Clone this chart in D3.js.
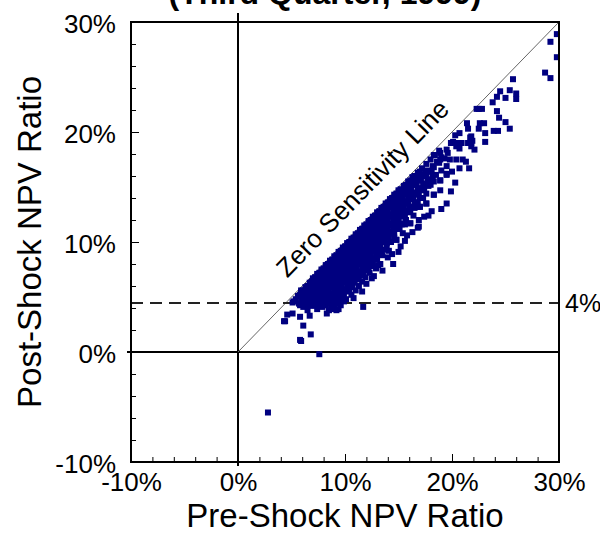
<!DOCTYPE html>
<html>
<head>
<meta charset="utf-8">
<script src="https://cdn.jsdelivr.net/npm/d3@7"></script>
<style>
  body { margin: 0; background: #fff; }
  svg { display: block; font-family: "Liberation Sans", Arial, sans-serif; }
  .tick line { stroke: #000; }
</style>
</head>
<body>
<div class="chart"></div>
<script>
// tick values (percent)
var xTicks = [-10, 0, 10, 20, 30];
var yTicks = [-10, 0, 10, 20, 30];
var threshold = 4.45;           // dashed "4%" line sits a little above 4
var thresholdLabel = "4%";
var diagLabelAt = 13.3;         // where the rotated label sits along the 45-degree line

// [pre-shock, post-shock] in percent - the dense band
var clusterPoints = [
  [6.1,4.1],[6.5,3.8],[7.0,4.2],[7.4,3.9],[7.9,4.1],[8.5,3.8],[9.0,4.2],[9.4,3.9],
  [5.2,4.6],[5.7,4.4],[6.2,4.7],[6.6,4.4],[7.1,4.6],[7.5,4.3],[8.0,4.6],[8.4,4.4],[8.9,4.7],[9.3,4.4],[9.9,4.6],
  [5.6,5.1],[6.0,4.9],[6.4,5.2],[6.9,4.9],[7.3,5.1],[7.7,4.8],[8.2,5.1],[8.6,4.9],[9.1,5.2],[9.6,4.9],
  [5.9,5.5],[6.3,5.3],[6.7,5.6],[7.1,5.3],[7.5,5.5],[7.9,5.2],[8.3,5.5],[8.8,5.3],[9.2,5.6],[9.7,5.3],[10.3,5.5],
  [6.3,5.9],[6.7,5.7],[7.1,6.0],[7.5,5.7],[7.9,5.9],[8.3,5.6],[8.7,5.9],[9.1,5.7],[9.6,6.0],[10.0,5.7],[10.6,5.9],
  [6.7,6.3],[7.0,6.1],[7.4,6.4],[7.8,6.1],[8.2,6.3],[8.6,6.0],[9.0,6.3],[9.4,6.1],[9.8,6.4],[10.3,6.1],[10.8,6.3],
  [7.0,6.7],[7.3,6.5],[7.7,6.8],[8.1,6.5],[8.5,6.7],[8.9,6.4],[9.3,6.7],[9.7,6.5],[10.1,6.8],[10.6,6.5],[11.2,6.6],
  [7.4,7.1],[7.7,6.9],[8.1,7.2],[8.5,6.9],[8.9,7.1],[9.3,6.8],[9.7,7.1],[10.1,6.9],[10.5,7.2],[10.9,6.9],[11.5,7.0],
  [7.8,7.5],[8.1,7.3],[8.5,7.6],[8.9,7.3],[9.3,7.5],[9.7,7.2],[10.1,7.5],[10.5,7.3],[10.9,7.6],[11.4,7.3],[12.0,7.4],
  [8.2,7.9],[8.6,7.7],[9.0,8.0],[9.4,7.7],[9.8,7.9],[10.2,7.6],[10.6,7.9],[11.0,7.7],[11.4,8.0],[11.9,7.7],[12.6,7.8],
  [8.6,8.3],[9.0,8.1],[9.4,8.4],[9.8,8.1],[10.2,8.3],[10.6,8.0],[11.0,8.3],[11.4,8.1],[11.8,8.4],[12.3,8.1],
  [9.0,8.7],[9.4,8.5],[9.8,8.8],[10.2,8.5],[10.6,8.7],[11.0,8.4],[11.4,8.7],[11.8,8.5],[12.2,8.8],[12.8,8.5],
  [9.4,9.1],[9.8,8.9],[10.2,9.2],[10.6,8.9],[11.0,9.1],[11.4,8.8],[11.8,9.1],[12.2,8.9],[12.7,9.2],[13.2,8.9],
  [9.8,9.5],[10.2,9.3],[10.6,9.6],[11.0,9.3],[11.4,9.5],[11.8,9.2],[12.2,9.5],[12.6,9.3],[13.1,9.6],[13.7,9.3],
  [10.2,9.9],[10.6,9.7],[11.0,10.0],[11.4,9.7],[11.8,9.9],[12.2,9.6],[12.6,9.9],[13.0,9.7],[13.5,10.0],
  [10.6,10.3],[11.0,10.1],[11.4,10.4],[11.8,10.1],[12.2,10.3],[12.6,10.0],[13.0,10.3],[13.4,10.1],[13.9,10.4],[14.8,10.2],
  [11.0,10.7],[11.4,10.5],[11.8,10.8],[12.2,10.5],[12.6,10.7],[13.0,10.4],[13.4,10.7],[13.9,10.5],[14.4,10.8],
  [11.4,11.1],[11.8,10.9],[12.2,11.2],[12.6,10.9],[13.0,11.1],[13.4,10.8],[13.8,11.1],[14.3,10.9],[14.9,11.2],
  [11.8,11.5],[12.2,11.3],[12.6,11.6],[13.0,11.3],[13.4,11.5],[13.8,11.2],[14.2,11.5],[14.7,11.3],[15.3,11.6],
  [12.2,11.9],[12.6,11.7],[13.0,12.0],[13.4,11.7],[13.8,11.9],[14.2,11.6],[14.7,11.9],[15.2,11.7],[16.1,11.7],
  [12.6,12.3],[13.0,12.1],[13.4,12.4],[13.8,12.1],[14.3,12.3],[14.8,12.0],[15.4,12.3],
  [13.0,12.7],[13.4,12.5],[13.8,12.8],[14.3,12.5],[14.8,12.7],[15.3,12.4],[15.9,12.7],
  [13.4,13.1],[13.8,12.9],[14.3,13.2],[14.8,12.9],[15.3,13.1],[15.8,12.8],[16.5,13.1],[17.0,13.2],
  [13.8,13.5],[14.2,13.3],[14.7,13.6],[15.2,13.3],[15.7,13.5],[16.3,13.2],[17.6,13.5],
  [14.2,13.9],[14.6,13.7],[15.1,14.0],[15.6,13.7],[16.2,13.9],[16.8,13.6],[18.3,14.3],
  [14.6,14.3],[15.1,14.1],[15.6,14.4],[16.1,14.1],[16.7,14.3],[17.3,14.0],
  [15.0,14.7],[15.5,14.5],[16.0,14.8],[16.6,14.5],[17.2,14.7],[18.9,14.7],
  [15.5,15.1],[16.0,14.9],[16.5,15.2],[17.1,14.9],[17.8,15.1],
  [15.9,15.5],[16.4,15.3],[16.9,15.6],[17.5,15.3],[18.3,15.5],
  [16.3,15.9],[16.8,15.7],[17.4,16.0],[18.0,15.7],[18.9,15.6],
  [16.8,16.3],[17.3,16.1],[17.9,16.4],[18.5,16.1],[19.5,16.2],
  [17.2,16.7],[17.7,16.5],[18.3,16.8],[19.0,16.5],
  [17.6,17.1],[18.2,16.9],[18.8,17.2],[19.5,16.9],
  [18.0,17.5],[18.6,17.3],[19.3,17.6],
  [18.4,17.9],[19.0,17.7],
  [18.8,18.3],[19.6,18.1]
];

// more points packed in between, where the band is solid
var clusterFill = [
  [5.8,4.25],[6.3,4.25],[6.8,4.25],[7.2,4.25],[7.7,4.25],[8.2,4.25],[8.7,4.25],[9.6,4.25],
  [5.4,4.8],[5.9,4.8],[6.6,4.8],[7.0,4.8],[7.5,4.8],[8.0,4.8],[8.4,4.8],[8.8,4.8],[9.4,4.8],[10.1,4.8],
  [5.8,5.2],[6.2,5.2],[6.6,5.2],[7.0,5.2],[7.4,5.2],[7.8,5.2],[8.4,5.2],[9.0,5.2],[9.4,5.2],[9.9,5.2],[10.6,5.2],
  [6.1,5.6],[6.5,5.6],[6.9,5.6],[7.3,5.6],[7.7,5.6],[8.1,5.6],[8.5,5.6],[9.0,5.6],[9.4,5.6],[9.9,5.6],[10.4,5.6],[11.0,5.6],
  [6.5,6.0],[6.9,6.0],[7.3,6.0],[7.7,6.0],[8.1,6.0],[8.5,6.0],[8.9,6.0],[9.3,6.0],[9.7,6.0],[10.2,6.0],[10.7,6.0],[11.3,6.0],
  [6.9,6.4],[7.2,6.4],[7.6,6.4],[8.0,6.4],[8.4,6.4],[8.8,6.4],[9.2,6.4],[9.6,6.4],[10.0,6.4],[10.4,6.4],[10.9,6.4],[11.6,6.4],
  [7.2,6.8],[7.5,6.8],[7.9,6.8],[8.3,6.8],[8.7,6.8],[9.1,6.8],[9.5,6.8],[9.9,6.8],[10.3,6.8],[10.8,6.8],[11.3,6.8],[11.9,6.8],
  [7.6,7.2],[7.9,7.2],[8.3,7.2],[8.7,7.2],[9.1,7.2],[9.5,7.2],[9.9,7.2],[10.3,7.2],[10.7,7.2],[11.2,7.2],[11.7,7.2],[12.3,7.2],
  [8.0,7.6],[8.3,7.6],[8.7,7.6],[9.1,7.6],[9.5,7.6],[9.9,7.6],[10.3,7.6],[10.7,7.6],[11.1,7.6],[11.6,7.6],[12.2,7.6],[12.9,7.6],
  [8.4,8.0],[8.8,8.0],[9.2,8.0],[9.6,8.0],[10.0,8.0],[10.4,8.0],[10.8,8.0],[11.2,8.0],[11.6,8.0],[12.1,8.0],[12.6,8.0],[13.3,8.0],
  [8.8,8.4],[9.2,8.4],[9.6,8.4],[10.0,8.4],[10.4,8.4],[10.8,8.4],[11.2,8.4],[11.6,8.4],[12.0,8.4],[12.5,8.4],[13.0,8.4],
  [9.2,8.8],[9.6,8.8],[10.0,8.8],[10.4,8.8],[10.8,8.8],[11.2,8.8],[11.6,8.8],[12.0,8.8],[12.4,8.8],[12.9,8.8],[13.5,8.8],
  [9.6,9.2],[10.0,9.2],[10.4,9.2],[10.8,9.2],[11.2,9.2],[11.6,9.2],[12.0,9.2],[12.4,9.2],[12.9,9.2],[13.4,9.2],[14.1,9.2],
  [10.0,9.6],[10.4,9.6],[10.8,9.6],[11.2,9.6],[11.6,9.6],[12.0,9.6],[12.4,9.6],[12.8,9.6],[13.3,9.6],[13.9,9.6],
  [10.4,10.0],[10.8,10.0],[11.2,10.0],[11.6,10.0],[12.0,10.0],[12.4,10.0],[12.8,10.0],[13.2,10.0],[13.7,10.0],[14.3,10.0],
  [10.8,10.4],[11.2,10.4],[11.6,10.4],[12.0,10.4],[12.4,10.4],[12.8,10.4],[13.2,10.4],[13.6,10.4],[14.1,10.4],[14.6,10.4],
  [11.2,10.8],[11.6,10.8],[12.0,10.8],[12.4,10.8],[12.8,10.8],[13.2,10.8],[13.6,10.8],[14.1,10.8],[14.6,10.8],[15.4,10.8],
  [11.6,11.2],[12.0,11.2],[12.4,11.2],[12.8,11.2],[13.2,11.2],[13.6,11.2],[14.0,11.2],[14.5,11.2],[15.1,11.2],
  [12.0,11.6],[12.4,11.6],[12.8,11.6],[13.2,11.6],[13.6,11.6],[14.0,11.6],[14.4,11.6],[14.9,11.6],[15.6,11.6],
  [12.4,12.0],[12.8,12.0],[13.2,12.0],[13.6,12.0],[14.0,12.0],[14.5,12.0],[15.0,12.0],[15.7,12.0],
  [12.8,12.4],[13.2,12.4],[13.6,12.4],[14.0,12.4],[14.5,12.4],[15.0,12.4],[15.6,12.4],[16.4,12.4],
  [13.2,12.8],[13.6,12.8],[14.0,12.8],[14.5,12.8],[15.0,12.8],[15.5,12.8],[16.1,12.8],
  [13.6,13.2],[14.0,13.2],[14.5,13.2],[15.0,13.2],[15.5,13.2],[16.0,13.2],[16.8,13.2],
  [14.0,13.6],[14.4,13.6],[14.9,13.6],[15.4,13.6],[15.9,13.6],[16.5,13.6],
  [14.4,14.0],[14.9,14.0],[15.4,14.0],[15.9,14.0],[16.4,14.0],[17.0,14.0],
  [14.8,14.4],[15.3,14.4],[15.8,14.4],[16.3,14.4],[16.9,14.4],[17.6,14.4],
  [15.2,14.8],[15.7,14.8],[16.2,14.8],[16.8,14.8],[17.4,14.8],
  [15.7,15.2],[16.2,15.2],[16.7,15.2],[17.3,15.2],[18.0,15.2],
  [16.1,15.6],[16.6,15.6],[17.1,15.6],[17.7,15.6],
  [16.5,16.0],[17.0,16.0],[17.6,16.0],[18.2,16.0],
  [17.0,16.4],[17.5,16.4],[18.1,16.4]
];

// ragged lower edge of the band
var clusterFringe = [
  [10.8,4.9],[11.6,5.5],[12.0,6.2],[13.5,7.4],[13.1,7.9],[14.0,8.6],[15.0,9.1],[15.2,9.6],
  [15.8,10.6],[16.3,10.9],[16.9,12.0],[17.4,12.3],[17.8,12.4],[18.1,12.8],[19.0,13.0],
  [19.9,14.6],[20.3,15.4],[20.0,16.4],[12.7,6.9],[14.4,8.9],[15.6,10.1]
];

// scattered points away from the band
var outlierPoints = [
  [29.8,28.9],[29.2,28.2],[29.8,26.8],[28.7,25.4],[29.2,24.9],[25.7,24.8],[24.5,23.7],[25.4,23.8],
  [26.0,23.5],[26.0,23.0],[24.2,23.2],[25.0,23.1],[23.8,22.7],[22.5,22.1],[22.8,22.1],[22.3,22.1],
  [24.2,21.9],[24.4,21.3],[25.0,20.9],[25.4,20.3],[23.9,20.1],[24.3,20.1],[22.6,20.8],[23.0,20.8],
  [21.4,20.8],[22.5,20.3],[21.5,20.3],[23.1,19.9],[23.1,19.1],[21.8,19.6],[20.7,19.9],[20.3,19.7],
  [20.9,19.0],[21.5,19.0],[21.8,19.0],[19.9,19.0],[20.4,18.7],[20.1,19.1],[20.6,19.0],[21.7,19.5],
  [21.9,19.2],[20.7,18.5],[21.8,18.7],[22.1,18.4],[19.5,18.4],[18.9,18.1],[18.3,17.9],[18.9,17.5],
  [19.8,17.5],[20.4,17.5],[21.0,17.5],[21.3,17.3],[20.7,16.7],[21.6,16.7],[19.5,16.1],[18.9,15.6],
  [19.5,13.5],[18.3,14.3],[17.6,13.5],[17.0,13.2],[16.9,11.4],[16.1,11.7],[16.8,11.3],[14.5,8.0],
  [12.5,6.7],[14.8,10.2],[13.9,9.9],[11.7,4.1],
  [2.8,-5.5],[7.6,-0.2],[5.9,1.0],[6.8,1.6],[6.1,2.4],[4.3,2.8],[4.6,3.4],[5.1,3.5],[5.1,4.5],
  [5.8,3.2],[6.7,3.3],[8.3,3.5],[6.0,4.8],[6.7,5.6],[5.9,5.6],[9.2,3.8],[8.8,3.9],[4.4,2.8],[5.8,1.1]
];

var W = 600, H = 538;
var margin = {top: 22, right: 41, bottom: 76, left: 131}
  , width = W - margin.left - margin.right
  , height = H - margin.top - margin.bottom;

var xScale = d3.scaleLinear().domain([-10, 30]).range([0, width]);
var yScale = d3.scaleLinear().domain([-10, 30]).range([height, 0]);

var svg = d3.select(".chart").append("svg")
    .attr("width", W)
    .attr("height", H);

// title, only its lower edge is on the page
svg.append("text")
    .attr("x", 325)
    .attr("y", 4)
    .attr("text-anchor", "middle")
    .style("font-size", "32px")
    .style("font-weight", "bold")
    .text("(Third Quarter, 1999)");

var g = svg.append("g")
    .attr("transform", "translate(" + margin.left + "," + margin.top + ")");

// minor ticks every 2%, pointing inwards
g.append("g")
    .attr("transform", "translate(0," + height + ")")
    .call(d3.axisBottom(xScale).tickValues(d3.range(-10, 30.1, 2)).tickSize(-5).tickFormat(""))
    .call(a => a.select(".domain").remove());
g.append("g")
    .call(d3.axisLeft(yScale).tickValues(d3.range(-10, 30.1, 2)).tickSize(-5).tickFormat(""))
    .call(a => a.select(".domain").remove());

// labelled axes
g.append("g")
    .attr("transform", "translate(0," + height + ")")
    .call(d3.axisBottom(xScale).tickValues(xTicks).tickSize(-8).tickPadding(11).tickFormat(d => d + "%"))
    .call(a => a.select(".domain").remove())
    .call(a => a.selectAll("text").style("font-size", "26px").attr("fill", "#000").style("font-family", "inherit"));
g.append("g")
    .call(d3.axisLeft(yScale).tickValues(yTicks).tickSize(-8).tickPadding(15).tickFormat(d => d + "%"))
    .call(a => a.select(".domain").remove())
    .call(a => a.selectAll("text").style("font-size", "26px").attr("dy", "0.42em").attr("fill", "#000").style("font-family", "inherit"));

// zero lines
g.append("line")
    .attr("x1", xScale(0)).attr("x2", xScale(0))
    .attr("y1", -9).attr("y2", height + 4)
    .style("stroke", "#000").style("stroke-width", 2);
g.append("line")
    .attr("x1", -4).attr("x2", width)
    .attr("y1", yScale(0)).attr("y2", yScale(0))
    .style("stroke", "#000").style("stroke-width", 2);

// zero sensitivity line
g.append("line")
    .attr("x1", xScale(0)).attr("y1", yScale(0))
    .attr("x2", xScale(30)).attr("y2", yScale(30))
    .style("stroke", "#666").style("stroke-width", 1);

var angle = Math.atan2(yScale(30) - yScale(0), xScale(30) - xScale(0)) * 180 / Math.PI;
g.append("text")
    .attr("transform", "translate(" + xScale(diagLabelAt) + "," + yScale(diagLabelAt) + ") rotate(" + angle + ")")
    .attr("y", -16)
    .attr("text-anchor", "middle")
    .style("font-size", "26px")
    .text("Zero Sensitivity Line");

// dashed threshold
g.append("line")
    .attr("x1", 0).attr("x2", width)
    .attr("y1", yScale(threshold)).attr("y2", yScale(threshold))
    .style("stroke", "#222").style("stroke-width", 2)
    .style("stroke-dasharray", "12 7");
g.append("text")
    .attr("x", width + 6)
    .attr("y", yScale(threshold))
    .attr("dy", "0.36em")
    .style("font-size", "25px")
    .text(thresholdLabel);

// points
var allPoints = clusterPoints.concat(clusterFill, clusterFringe, outlierPoints);
g.selectAll(".dot")
    .data(allPoints)
  .enter().append("rect")
    .attr("class", "dot")
    .attr("x", d => xScale(d[0]) - 3)
    .attr("y", d => yScale(d[1]) - 3)
    .attr("width", 6)
    .attr("height", 6)
    .style("fill", "#000080");

// frame
g.append("rect")
    .attr("width", width)
    .attr("height", height)
    .style("fill", "none")
    .style("stroke", "#000")
    .style("stroke-width", 2);

// axis titles
svg.append("text")
    .attr("x", margin.left + width / 2)
    .attr("y", 527)
    .attr("text-anchor", "middle")
    .style("font-size", "33px")
    .text("Pre-Shock NPV Ratio");
svg.append("text")
    .attr("transform", "translate(41," + (margin.top + height / 2) + ") rotate(-90)")
    .attr("text-anchor", "middle")
    .style("font-size", "33px")
    .text("Post-Shock NPV Ratio");
</script>
</body>
</html>
